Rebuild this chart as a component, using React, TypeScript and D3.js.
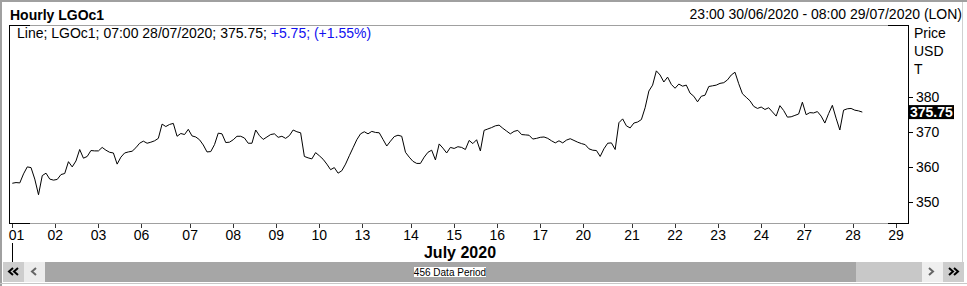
import React from "react";
import * as d3 from "d3";

const days = ["01","02","03","06","07","08","09","10","13","14","15","16","17","20","21","22","23","24","27","28","29"];
const hoursPerDay = [23,23,23,26,23,23,23,23,26,23,23,23,23,26,23,23,23,23,26,23];
const priceTicks = [350, 360, 370, 380];
const stepHours = 2;
const prices = [
  355.3, 355.5, 355.4, 358.0, 360.0, 359.8, 356.5, 352.0, 357.5, 358.2,
  356.5, 356.2, 356.4, 357.8, 358.1, 361.5, 360.0, 361.7, 365.0, 362.5,
  363.0, 364.7, 364.6, 364.6, 365.6, 364.8, 364.2, 364.0, 360.8, 362.8,
  364.0, 364.3, 364.5, 365.5, 366.8, 367.4, 366.8, 367.1, 367.5, 368.2,
  372.3, 371.6, 372.2, 372.5, 368.8, 369.6, 369.3, 370.8, 368.9, 368.6,
  367.8, 366.3, 364.3, 364.4, 366.4, 369.7, 369.5, 367.0, 367.1, 367.8,
  368.8, 368.8, 368.3, 366.8, 366.8, 370.6, 369.0, 367.9, 368.6, 369.3,
  369.5, 368.5, 368.8, 368.2, 369.0, 370.6, 370.1, 369.8, 363.0, 362.6,
  362.3, 364.1, 363.2, 362.2, 360.8, 359.2, 359.8, 358.2, 358.9, 360.8,
  363.2, 365.5, 367.8, 369.5, 370.1, 369.5, 370.2, 369.9, 369.8, 367.9,
  366.0, 367.4, 368.7, 369.1, 368.8, 364.2, 362.8, 361.6, 361.0, 361.0,
  362.8, 364.2, 364.8, 362.0, 366.6, 365.4, 364.0, 365.6, 365.3, 365.8,
  365.6, 365.0, 367.6, 366.7, 367.8, 364.6, 370.5, 370.9, 371.3, 371.8,
  372.0, 371.1, 370.3, 369.5, 370.2, 370.5, 369.3, 369.2, 369.1, 368.0,
  368.2, 368.5, 368.6, 368.2, 367.5, 366.9, 367.5, 366.9, 367.7, 368.1,
  367.6, 367.1, 366.7, 366.4, 365.2, 364.8, 364.7, 363.0, 365.2, 366.8,
  366.9, 365.0, 372.7, 373.8, 371.8, 371.2, 372.6, 372.9, 373.6, 377.0,
  381.8, 383.5, 387.6, 386.4, 384.4, 385.8, 383.7, 382.6, 383.8, 383.2,
  383.5, 381.2, 380.3, 378.7, 380.3, 380.6, 383.1, 383.3, 383.5, 384.0,
  384.2, 385.0, 386.4, 387.2, 383.9, 381.0, 380.0, 379.0, 377.4, 376.8,
  377.2, 376.5, 377.0, 375.8, 374.6, 377.6, 376.2, 374.3, 374.4, 374.8,
  375.2, 378.6, 375.0, 375.6, 375.5, 375.9, 374.6, 372.6, 375.3, 377.7,
  374.0, 370.6, 376.3, 376.7, 376.8, 376.3, 376.1, 375.75,
];
const title = "Hourly LGOc1";
const rangeText = "23:00 30/06/2020 - 08:00 29/07/2020 (LON)";
const legendMain = "Line; LGOc1; 07:00 28/07/2020; 375.75; ";
const legendChange = "+5.75; (+1.55%)";
const axisUnits = ["Price", "USD", "T"];
const monthLabel = "July 2020";
const periodLabel = "456 Data Period";
const lastLabel = "375.75";

const FONT = "'Liberation Sans', Arial, sans-serif";

export default function App() {
  const W = 967, H = 286;
  const plotL = 9, plotR = 908, plotT = 25, plotB = 223;
  const tickSlots = [0, ...d3.cumsum(hoursPerDay)];
  const totalSlots = d3.sum(hoursPerDay);
  const x = d3.scaleLinear().domain([0, totalSlots]).range([12.3, 896]);
  const y = d3.scaleLinear().domain([350, 380]).range([201.7, 97.3]);
  const line = d3.line<number>().x((_, i) => x(i * stepHours)).y((d) => y(d));
  const last = prices[prices.length - 1];

  const gray = "#a0a0a0";
  return (
    <svg width={W} height={H} style={{ position: "absolute", left: 0, top: 0, background: "#fff" }} fontFamily={FONT}>
      <rect x={0} y={0} width={W} height={H} fill="#fff" />
      {/* outer border */}
      <line x1={0} y1={1} x2={W} y2={1} stroke={gray} strokeWidth={2} />
      <line x1={1} y1={0} x2={1} y2={H} stroke={gray} strokeWidth={2} />
      <line x1={962.5} y1={2} x2={962.5} y2={262} stroke="#d0d0d0" strokeWidth={1} />
      <line x1={0} y1={283.5} x2={W} y2={283.5} stroke="#c8c8c8" strokeWidth={1} />

      {/* header */}
      <text x={10} y={19.5} fontSize={14} fontWeight="bold" fill="#000">{title}</text>
      <text x={962} y={19} fontSize={14} textAnchor="end" fill="#000">{rangeText}</text>

      {/* plot frame */}
      <line x1={plotL} y1={plotT + 0.5} x2={plotR} y2={plotT + 0.5} stroke={gray} />
      <line x1={plotL} y1={plotB + 0.5} x2={plotR} y2={plotB + 0.5} stroke={gray} />
      <line x1={plotL} y1={plotT + 0.5} x2={plotL + 21} y2={plotT + 0.5} stroke="#000" />
      <line x1={plotR - 20} y1={plotT + 0.5} x2={plotR} y2={plotT + 0.5} stroke="#000" />
      <line x1={plotL} y1={plotB + 0.5} x2={plotL + 21} y2={plotB + 0.5} stroke="#000" />
      <line x1={plotR - 20} y1={plotB + 0.5} x2={plotR} y2={plotB + 0.5} stroke="#000" />
      <line x1={plotL + 0.5} y1={plotT} x2={plotL + 0.5} y2={plotB + 1} stroke="#000" />
      <line x1={plotR + 0.5} y1={plotT} x2={plotR + 0.5} y2={plotB + 1} stroke="#000" />

      {/* legend */}
      <text x={17} y={38} fontSize={14} fill="#000">
        <tspan>{legendMain}</tspan>
        <tspan fill="#1010f0">{legendChange}</tspan>
      </text>

      {/* price line */}
      <path d={line(prices) || ""} fill="none" stroke="#000" strokeWidth={1} />

      {/* right axis */}
      {axisUnits.map((u, i) => (
        <text key={u} x={914} y={38 + i * 18} fontSize={14} fill="#000">{u}</text>
      ))}
      {priceTicks.map((t) => (
        <g key={t}>
          <line x1={plotR + 1} x2={plotR + 5} y1={Math.round(y(t)) + 0.5} y2={Math.round(y(t)) + 0.5} stroke="#000" />
          <text x={916} y={y(t) + 5} fontSize={14} fill="#000">{t}</text>
        </g>
      ))}
      <rect x={plotR} y={y(last) - 7} width={46} height={14} fill="#000" />
      <text x={910} y={y(last) + 5} fontSize={14} fontWeight="bold" fill="#fff">{lastLabel}</text>

      {/* bottom axis */}
      {days.map((d, i) => {
        const tx = x(tickSlots[i]);
        const lx = Math.max(tx, 16.5);
        return (
          <g key={d}>
            <line x1={Math.round(tx) + 0.5} x2={Math.round(tx) + 0.5} y1={224} y2={228} stroke="#333" />
            <text x={lx} y={240} fontSize={14} textAnchor="middle" fill="#000">{d}</text>
          </g>
        );
      })}
      <line x1={Math.round(x(0)) + 0.5} x2={Math.round(x(0)) + 0.5} y1={243} y2={262} stroke="#000" />
      <text x={460} y={258} fontSize={16} fontWeight="bold" textAnchor="middle" fill="#000">{monthLabel}</text>

      {/* scrollbar */}
      <rect x={3} y={262} width={21} height={20} fill="#cdcdcd" />
      <rect x={24} y={262} width={21} height={20} fill="#ececec" />
      <rect x={45} y={262} width={811} height={20} fill="#a6a6a6" />
      <rect x={856} y={262} width={66} height={20} fill="#c8c8c8" />
      <rect x={922} y={262} width={21} height={20} fill="#efefef" />
      <rect x={943} y={262} width={21} height={20} fill="#cdcdcd" />
      <path d="M13,268 L9,271.5 L13,275 M18,268 L14,271.5 L18,275" fill="none" stroke="#000" strokeWidth={2} />
      <path d="M36,268 L32,271.5 L36,275" fill="none" stroke="#666" strokeWidth={2} />
      <path d="M929,268 L933,271.5 L929,275" fill="none" stroke="#666" strokeWidth={2} />
      <path d="M949,268 L953,271.5 L949,275 M954,268 L958,271.5 L954,275" fill="none" stroke="#000" strokeWidth={2} />
      <rect x={414} y={267} width={72} height={10} fill="#fff" />
      <text x={450} y={276} fontSize={10} textAnchor="middle" fill="#000">{periodLabel}</text>
    </svg>
  );
}
